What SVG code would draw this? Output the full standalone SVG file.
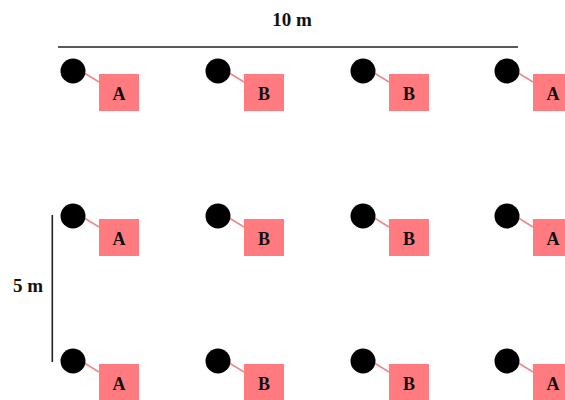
<svg xmlns="http://www.w3.org/2000/svg" width="565" height="400" viewBox="0 0 565 400">
<defs>
<style>
.dot{fill:#000}
.box{fill:#ff7b80}
.lnk{stroke:#f4878b;stroke-width:1.6}
.lbl{font-family:"Liberation Serif",serif;font-weight:bold;font-size:18px;fill:#111;text-anchor:middle}
.dimt{font-family:"Liberation Serif",serif;font-weight:bold;font-size:19px;fill:#111;text-anchor:middle}
.dim{stroke:#222;stroke-width:1.6}
</style>
<g id="tree">
<line class="lnk" x1="8" y1="0" x2="26" y2="11"/>
<circle class="dot" cx="0" cy="0" r="12.5"/>
<rect class="box" x="26" y="3" width="40" height="37"/>
</g>
</defs>
<g id="dimensions">
<line class="dim" x1="58" y1="47" x2="518" y2="47"/>
<text class="dimt" x="292" y="26">10 m</text>
<line class="dim" x1="52.3" y1="215" x2="52.3" y2="362"/>
<text class="dimt" x="28" y="292">5 m</text>
</g>
<g id="r1c1"><use href="#tree" x="73" y="71"/><text class="lbl" x="119" y="100">A</text></g>
<g id="r1c2"><use href="#tree" x="218" y="71"/><text class="lbl" x="264" y="100">B</text></g>
<g id="r1c3"><use href="#tree" x="363" y="71"/><text class="lbl" x="409" y="100">B</text></g>
<g id="r1c4"><use href="#tree" x="507" y="71"/><text class="lbl" x="553" y="100">A</text></g>
<g id="r2c1"><use href="#tree" x="73" y="216"/><text class="lbl" x="119" y="245">A</text></g>
<g id="r2c2"><use href="#tree" x="218" y="216"/><text class="lbl" x="264" y="245">B</text></g>
<g id="r2c3"><use href="#tree" x="363" y="216"/><text class="lbl" x="409" y="245">B</text></g>
<g id="r2c4"><use href="#tree" x="507" y="216"/><text class="lbl" x="553" y="245">A</text></g>
<g id="r3c1"><use href="#tree" x="73" y="361"/><text class="lbl" x="119" y="390">A</text></g>
<g id="r3c2"><use href="#tree" x="218" y="361"/><text class="lbl" x="264" y="390">B</text></g>
<g id="r3c3"><use href="#tree" x="363" y="361"/><text class="lbl" x="409" y="390">B</text></g>
<g id="r3c4"><use href="#tree" x="507" y="361"/><text class="lbl" x="553" y="390">A</text></g>
</svg>
